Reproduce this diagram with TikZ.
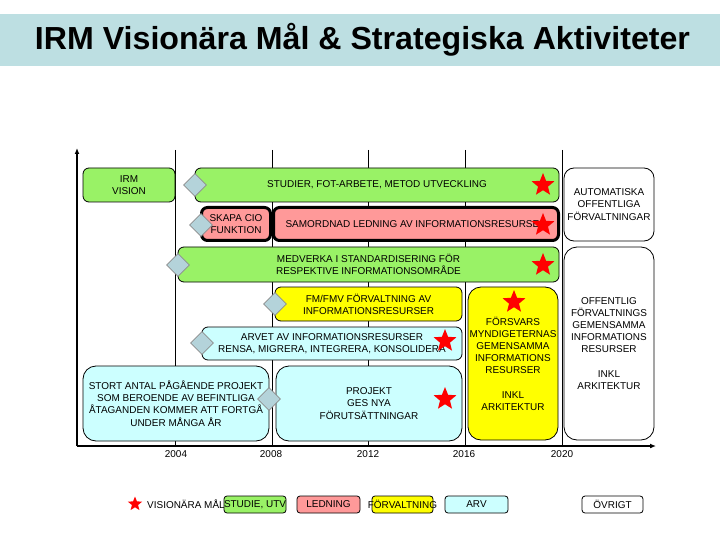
\documentclass[tikz,border=0pt]{standalone}
\usepackage{graphicx}
\usepackage{fontspec}
\setmainfont{Liberation Sans}
\usetikzlibrary{shapes.geometric,arrows.meta}
\definecolor{titlecol}{HTML}{BDDFE2}
\definecolor{studcol}{HTML}{99F266}
\definecolor{ledcol}{HTML}{FF9999}
\definecolor{forvcol}{HTML}{FFFF00}
\definecolor{arvcol}{HTML}{CCFFFF}
\definecolor{diacol}{HTML}{B4D3DA}
\begin{document}
\begin{tikzpicture}[x=1bp,y=-1bp,
  txt/.style={font=\fontsize{10}{12.2}\selectfont, align=center, inner sep=0pt},
  box/.style={txt, draw=black, line width=0.8bp, rounded corners=6bp},
  bigbox/.style={box, rounded corners=13bp},
  heavybox/.style={box, line width=3bp},
  dia/.style={diamond, aspect=1, minimum width=23bp, minimum height=23bp, inner sep=0pt, fill=diacol, draw=black!45, line width=0.6bp},
  vstar/.style={star, star points=5, star point ratio=2.3, minimum size=24bp, inner sep=0pt, fill=red, draw=none},
  grid/.style={draw=black, line width=0.8bp},
  axis/.style={draw=black, line width=1.6bp, -{Latex[length=6bp,width=5bp]}},
  legbox/.style={box, rounded corners=3bp, minimum height=17bp},
]
\useasboundingbox (0,0) rectangle (720,540);
% title
\fill[titlecol] (0,14) rectangle (720,66);
\node[anchor=base, inner sep=0pt] (title) at (362.5,50) {\resizebox{655bp}{\height}{\fontsize{32}{32}\selectfont\bfseries IRM Visionära Mål \& Strategiska Aktiviteter}};
% grid
\foreach \x/\n in {175/a,272/b,368/c,465/d,562/e}{
  \coordinate (g\n top) at (\x,150);
  \coordinate (g\n bot) at (\x,446);
  \draw[grid] (g\n top) -- (g\n bot);
}
\coordinate (origin) at (77,446);
\coordinate (ytip) at (77,148);
\coordinate (xtip) at (656,446);
\draw[axis] (origin) -- (ytip);
\draw[axis] (origin) -- (xtip);
% years
\foreach \x/\y in {176/2004,271/2008,368/2012,464/2016,562/2020}{
  \node[txt, anchor=base] (y\y) at (\x,457) {\y};
}
% boxes
\node[box, fill=studcol, minimum width=92bp, minimum height=34bp] (vision) at (129,185) {IRM\\VISION};
\node[box, fill=studcol, minimum width=364bp, minimum height=34bp] (studier) at (377,185) {STUDIER, FOT-ARBETE, METOD UTVECKLING};
\node[heavybox, fill=ledcol, minimum width=69bp, minimum height=33bp] (skapa) at (236,224) {SKAPA CIO\\FUNKTION};
\node[heavybox, fill=ledcol, minimum width=285bp, minimum height=33bp] (samordnad) at (416,224) {SAMORDNAD LEDNING AV INFORMATIONSRESURSER};
\node[box, fill=studcol, minimum width=381bp, minimum height=35bp] (medverka) at (368.5,264.5) {MEDVERKA I STANDARDISERING FÖR\\RESPEKTIVE INFORMATIONSOMRÅDE};
\node[box, rounded corners=10bp, fill=white, minimum width=90bp, minimum height=73bp] (auto) at (609,204.5) {AUTOMATISKA\\OFFENTLIGA\\FÖRVALTNINGAR};
\node[bigbox, fill=white, minimum width=90bp, minimum height=193bp] (offentlig) at (609,343.5) {OFFENTLIG\\FÖRVALTNINGS\\GEMENSAMMA\\INFORMATIONS\\RESURSER\\[12.2bp]INKL\\ARKITEKTUR};
\node[box, fill=forvcol, minimum width=187bp, minimum height=34bp] (fmfmv) at (368.5,304) {FM/FMV FÖRVALTNING AV\\INFORMATIONSRESURSER};
\node[bigbox, fill=forvcol, minimum width=90bp, minimum height=153bp] (forsvars) at (513,363.5) {FÖRSVARS\\MYNDIGETERNAS\\GEMENSAMMA\\INFORMATIONS\\RESURSER\\[12.2bp]INKL\\ARKITEKTUR};
\node[box, fill=arvcol, minimum width=260bp, minimum height=33bp] (arvet) at (332,343.5) {ARVET AV INFORMATIONSRESURSER\\RENSA, MIGRERA, INTEGRERA, KONSOLIDERA};
\node[bigbox, fill=arvcol, minimum width=186bp, minimum height=75bp] (stort) at (176,403.5) {STORT ANTAL PÅGÅENDE PROJEKT\\SOM BEROENDE AV BEFINTLIGA\\ÅTAGANDEN KOMMER ATT FORTGÅ\\UNDER MÅNGA ÅR};
\node[bigbox, fill=arvcol, minimum width=186bp, minimum height=75bp] (projekt) at (369,403.5) {PROJEKT\\GES NYA\\FÖRUTSÄTTNINGAR};
% diamonds
\node[dia] (d1) at (195,185) {};
\node[dia] (d2) at (201,225) {};
\node[dia] (d3) at (178,265) {};
\node[dia] (d4) at (275,304) {};
\node[dia] (d5) at (202,343) {};
\node[dia] (d6) at (269,399) {};
% stars
\node[vstar] (s1) at (543,185) {};
\node[vstar] (s2) at (543,225) {};
\node[vstar] (s3) at (543,265) {};
\node[vstar] (s4) at (514,302) {};
\node[vstar] (s5) at (445,341) {};
\node[vstar] (s6) at (445,399) {};
% legend
\node[vstar, minimum size=15bp] (ls) at (135,504) {};
\node[txt, anchor=base west] (lvis) at (147,508.6) {VISIONÄRA MÅL};
\node[legbox, fill=studcol, minimum width=62bp] (lstud) at (255,504.5) {};
\node[txt] (lstudt) at (255,504.5) {STUDIE, UTV};
\node[legbox, fill=ledcol, minimum width=63bp] (lled) at (328.5,504.5) {LEDNING};
\node[legbox, fill=forvcol, minimum width=61bp] (lforv) at (402.5,504.5) {};
\node[txt] (lforvt) at (402.5,504.5) {FÖRVALTNING};
\node[legbox, fill=arvcol, minimum width=63bp] (larv) at (476.5,504.5) {ARV};
\node[legbox, fill=white, minimum width=61bp] (lovr) at (612.5,504.5) {ÖVRIGT};
\end{tikzpicture}
\end{document}
